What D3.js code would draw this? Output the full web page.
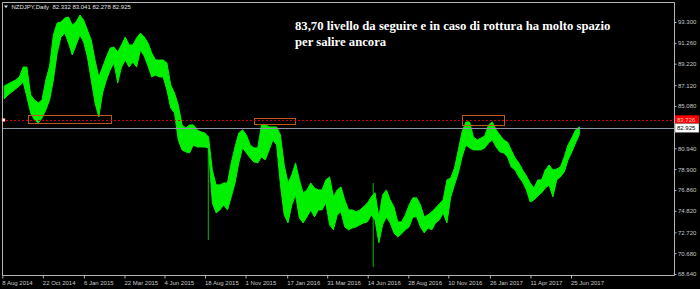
<!DOCTYPE html>
<html>
<head>
<meta charset="utf-8">
<script src="https://cdn.jsdelivr.net/npm/d3@7/dist/d3.min.js"></script>
<style>
body{margin:0;background:#000;}
svg{display:block;}
</style>
</head>
<body>
<script>
// weekly high/low of NZDJPY daily (first week starts 8 Aug 2014)
var firstWeek = "2014-08-08";
var highs = [87.04,87.23,87.43,87.62,87.92,88.89,88.89,86.16,85.67,85.38,
  85.67,87.62,88.99,92.03,93.20,93.30,93.69,93.79,93.00,93.30,
  93.98,93.49,92.52,91.54,89.58,87.92,88.89,89.87,90.75,90.85,
  90.36,91.05,91.83,91.05,91.05,91.73,92.22,91.83,91.24,90.26,
  89.58,89.58,89.58,89.29,87.14,86.35,85.18,83.23,82.93,83.23,
  83.23,82.74,82.54,82.44,82.05,78.82,77.36,77.36,77.55,77.55,
  79.51,81.07,82.44,82.74,82.25,81.27,80.98,80.98,83.23,83.23,
  83.03,83.03,83.03,82.25,79.31,77.55,78.34,79.51,77.85,76.57,
  76.87,77.55,77.06,76.87,76.87,77.85,78.14,76.18,76.87,77.16,
  75.89,74.91,74.91,74.72,74.91,75.21,75.60,76.18,76.60,74.23,
  76.38,76.87,75.89,75.21,73.74,73.74,74.42,75.40,76.09,76.09,
  75.40,74.23,74.42,74.72,75.11,75.50,75.89,77.85,78.04,79.02,
  80.78,82.54,83.52,83.52,82.05,81.76,81.95,82.15,83.23,83.52,
  82.74,82.25,81.76,81.56,80.78,80.00,79.51,78.82,78.24,77.55,
  77.06,77.85,77.85,78.82,79.31,78.82,78.92,79.12,80.10,81.27,
  81.95,82.74,83.04];
var lows = [85.77,86.16,86.45,86.74,87.04,87.43,85.96,84.40,83.72,83.42,
  83.91,84.69,85.67,87.62,90.26,91.83,92.22,91.24,90.07,91.05,
  92.03,91.34,89.87,87.62,85.38,84.01,86.35,87.62,88.60,89.29,
  87.33,88.89,89.58,88.89,89.38,88.89,90.56,89.97,88.99,87.92,
  88.11,87.92,87.92,86.65,84.89,84.40,81.76,80.78,80.59,80.49,
  81.27,81.07,81.07,81.07,80.98,75.60,74.62,74.91,75.40,74.91,
  76.18,77.55,79.51,80.98,80.49,80.00,79.61,79.51,80.10,79.80,
  80.78,81.76,81.27,77.36,74.42,73.64,75.40,76.38,74.13,73.64,
  74.23,74.91,74.23,74.91,74.91,75.60,73.45,72.96,74.42,74.72,
  73.25,72.96,73.15,73.25,73.45,73.64,73.74,74.42,73.93,71.69,
  73.45,74.23,73.64,72.66,72.27,72.57,72.96,73.25,74.23,74.23,
  73.25,72.66,73.15,72.96,73.64,73.93,74.62,73.64,76.18,77.36,
  78.53,80.10,81.27,80.98,80.78,80.78,80.78,80.98,81.47,81.76,
  81.07,80.59,80.49,80.10,79.12,78.82,78.14,77.65,76.87,75.69,
  75.89,76.28,76.57,77.06,77.36,76.18,77.85,78.14,78.63,79.80,
  80.59,81.47,82.28];
// single-day spikes: date, high, low
var wicks = [["2015-08-24",81.07,71.98],["2016-06-24",77.55,69.34]];

var priceTicks = [93.300,91.260,89.220,87.120,85.080,80.940,78.900,76.860,74.820,72.720,70.680,68.640];
var dateTicks = ["2014-08-08","2014-10-22","2015-01-06","2015-03-22","2015-06-04","2015-08-18","2015-11-01",
  "2016-01-17","2016-03-31","2016-06-14","2016-08-28","2016-11-10","2017-01-26","2017-04-11","2017-06-25"];

var levelPrice = 83.726;
var bidPrice = 82.925;
var lastBar = [82.332,83.041,82.278,82.925];
// rectangles drawn on the chart: from date, to date, top price, bottom price
var boxes = [["2014-09-25","2015-02-25",84.20,83.42],
  ["2015-11-16","2016-01-31",83.91,83.32],
  ["2016-12-05","2017-02-21",84.20,83.23]];
var note = ["83,70 livello da seguire e in caso di rottura ha molto spazio","per salire ancora"];

var W = 700, H = 289;
var pLeft = 2, pRight = 674, pTop = 2, pBottom = 275;
var parse = d3.utcParse("%Y-%m-%d");
var fmtDate = d3.utcFormat("%-d %b %Y");
var smallFont = "6px 'Liberation Sans', Arial, sans-serif";

var svg = d3.select("body").append("svg").attr("width", W).attr("height", H)
  .style("background", "#000");

var xScale = d3.scaleUtc().domain([parse("2014-08-08"), parse("2017-06-25")]).range([2.3, 571]);
var yScale = d3.scaleLinear().domain([68.64, 93.3]).range([274, 22]);

svg.append("clipPath").attr("id", "plotclip")
  .append("rect").attr("x", pLeft).attr("y", pTop).attr("width", pRight - pLeft).attr("height", pBottom - pTop);

var plot = svg.append("g").attr("clip-path", "url(#plotclip)");

// frame
svg.append("path")
  .attr("d", "M" + (pLeft + 0.5) + "," + (pBottom + 0.5) + "V" + (pTop + 0.5) + "H" + (pRight + 0.5) + "V" + (pBottom + 0.5) + "H" + (pLeft + 0.5))
  .attr("fill", "none").attr("stroke", "#b4b4b4").attr("stroke-width", 1);

// weekly ranges, placed at mid-week
var start = parse(firstWeek);
var weeks = highs.map(function(h, i){
  return {d: d3.utcHour.offset(d3.utcDay.offset(start, 7 * i), 84), hi: h, lo: lows[i]};
});

plot.append("g").selectAll("rect").data(wicks).enter().append("rect")
  .attr("x", function(d){ return xScale(parse(d[0])) - 0.5; })
  .attr("width", 1.2)
  .attr("y", function(d){ return yScale(d[1]); })
  .attr("height", function(d){ return yScale(d[2]) - yScale(d[1]); })
  .attr("fill", "#00a000");

var band = d3.area()
  .x(function(d){ return xScale(d.d); })
  .y0(function(d){ return yScale(d.lo); })
  .y1(function(d){ return yScale(d.hi); });

plot.append("path").datum(weeks)
  .attr("d", band)
  .attr("fill", "#00f000")
  .attr("stroke", "#00f000").attr("stroke-width", 1).attr("stroke-linejoin", "round");

// level boxes
plot.append("g").selectAll("rect").data(boxes).enter().append("rect")
  .attr("x", function(d){ return Math.round(xScale(parse(d[0]))) + 0.5; })
  .attr("y", function(d){ return Math.round(yScale(d[2])) + 0.5; })
  .attr("width", function(d){ return Math.round(xScale(parse(d[1])) - xScale(parse(d[0]))); })
  .attr("height", function(d){ return Math.round(yScale(d[3]) - yScale(d[2])); })
  .attr("fill", "none").attr("stroke", "#c0561c").attr("stroke-width", 1);

// bid line and level line
plot.append("line")
  .attr("x1", pLeft).attr("x2", pRight)
  .attr("y1", Math.round(yScale(bidPrice)) + 0.5).attr("y2", Math.round(yScale(bidPrice)) + 0.5)
  .attr("stroke", "#8a96a4").attr("stroke-width", 1);
plot.append("line")
  .attr("x1", pLeft).attr("x2", pRight)
  .attr("y1", Math.round(yScale(levelPrice)) + 0.5).attr("y2", Math.round(yScale(levelPrice)) + 0.5)
  .attr("stroke", "#d00000").attr("stroke-width", 1).attr("stroke-dasharray", "2,2");
svg.append("rect")
  .attr("x", 2).attr("y", Math.round(yScale(levelPrice)) - 1.5).attr("width", 3).attr("height", 3)
  .attr("fill", "#fff").attr("stroke", "#ff6060").attr("stroke-width", 0.5);

// price axis
var yAxis = d3.axisRight(yScale).tickValues(priceTicks).tickFormat(d3.format(".3f")).tickSize(2).tickPadding(1.5);
var ya = svg.append("g").attr("transform", "translate(" + (pRight + 0.5) + ",0)").call(yAxis);
ya.select(".domain").remove();
ya.selectAll("line").attr("stroke", "#b4b4b4");
ya.selectAll("text").attr("fill", "#c8c8c8").style("font", smallFont);

// time axis
var xAxis = d3.axisBottom(xScale).tickValues(dateTicks.map(parse)).tickFormat(fmtDate).tickSize(3).tickPadding(2);
var xa = svg.append("g").attr("transform", "translate(0," + (pBottom + 0.5) + ")").call(xAxis);
xa.select(".domain").remove();
xa.selectAll("line").attr("stroke", "#b4b4b4");
xa.selectAll("text").attr("fill", "#c8c8c8").attr("text-anchor", "start").attr("x", -0.5)
  .style("font", smallFont);

// price labels on the scale
function priceTag(price, bg, fg){
  var y = yScale(price);
  svg.append("rect").attr("x", pRight + 1).attr("y", y - 4.5).attr("width", 24).attr("height", 9)
    .attr("fill", bg).attr("stroke", bg === "#fff" ? "#606060" : "none").attr("stroke-width", 0.5);
  svg.append("text").attr("x", pRight + 3).attr("y", y + 2.2).text(d3.format(".3f")(price))
    .attr("fill", fg).style("font", smallFont);
}
priceTag(levelPrice, "#ff0000", "#ffc0c0");
priceTag(bidPrice, "#fff", "#000");

// header
svg.append("path").attr("d", "M4,5.5L8,5.5L6,8Z").attr("fill", "#e0e0e0");
svg.append("text").attr("x", 11.5).attr("y", 8.7)
  .text("NZDJPY,Daily  " + lastBar.map(d3.format(".3f")).join(" "))
  .attr("fill", "#e0e0e0").style("white-space", "pre")
  .style("font", smallFont);

// comment
svg.append("g").selectAll("text").data(note).enter().append("text")
  .attr("x", 295).attr("y", function(d, i){ return 30 + i * 16; })
  .text(function(d){ return d; })
  .attr("fill", "#fff")
  .style("font", "bold 12.7px 'Liberation Serif', 'Times New Roman', serif");
</script>
</body>
</html>
